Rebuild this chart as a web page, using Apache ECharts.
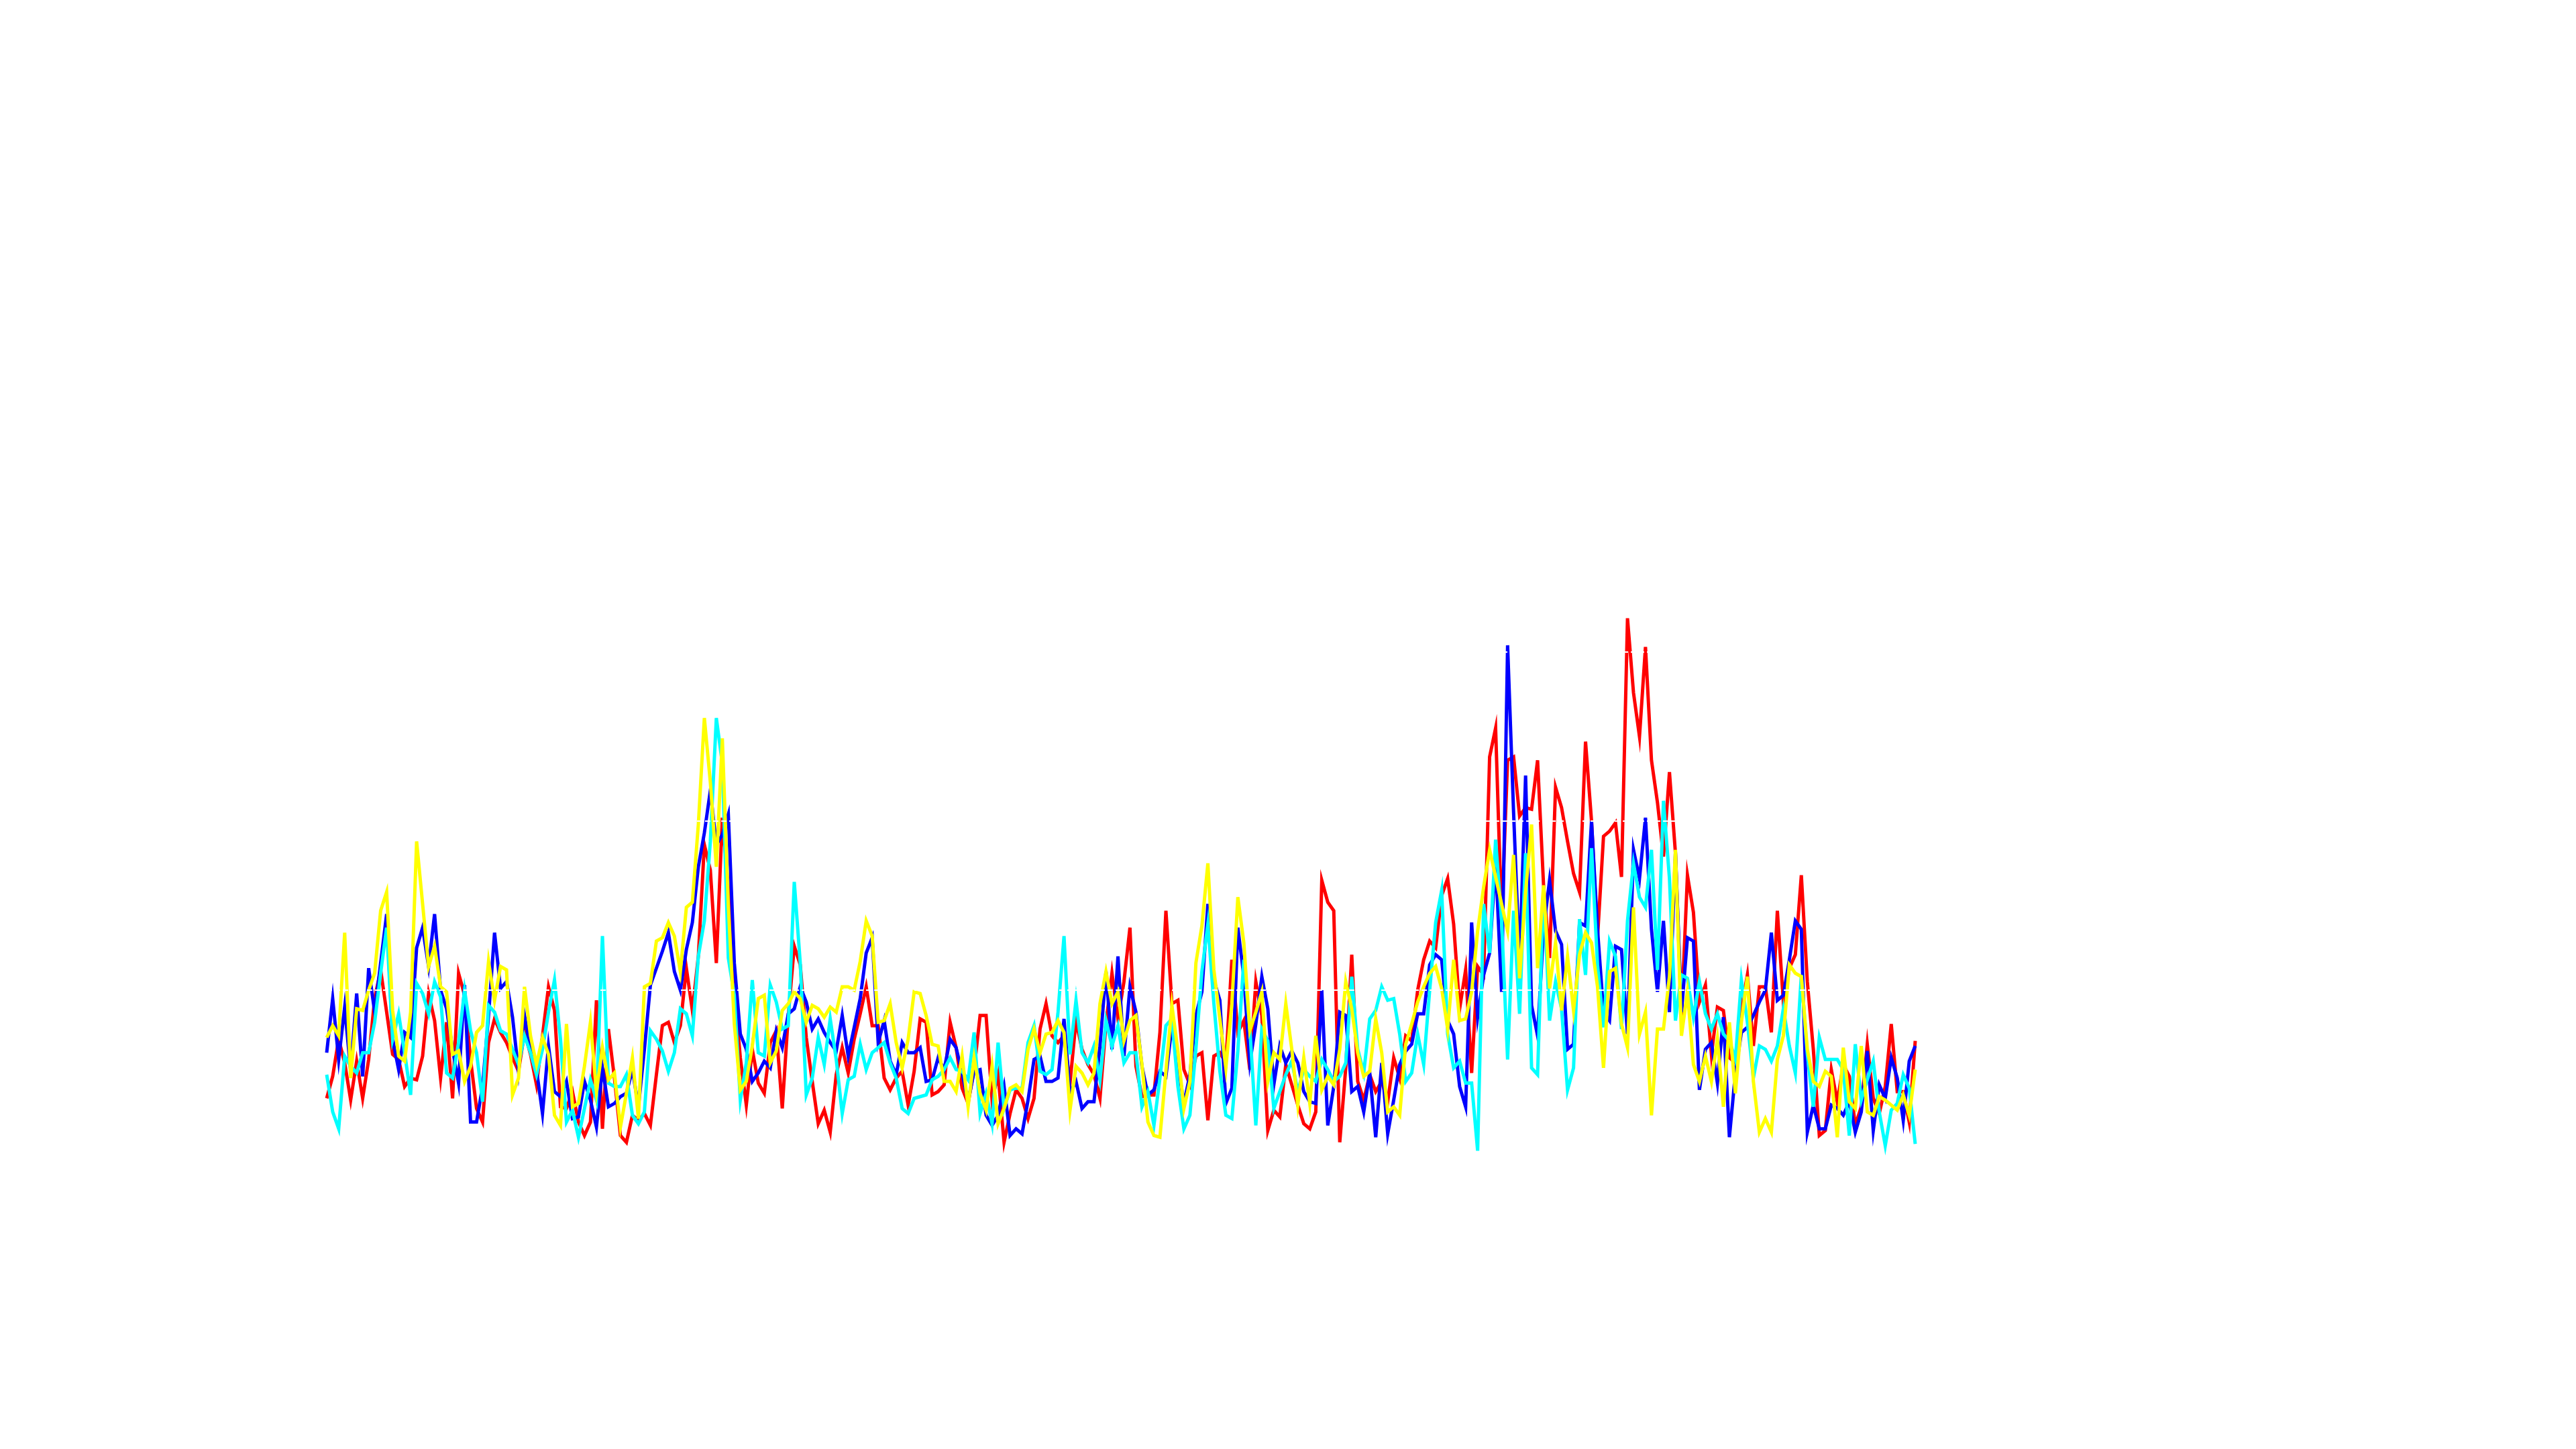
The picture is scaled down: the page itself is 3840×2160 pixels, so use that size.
<!DOCTYPE html>
<html>
<head>
<meta charset="utf-8">
<script src="https://cdn.jsdelivr.net/npm/echarts@6/dist/echarts.min.js"></script>
<style>
html,body{margin:0;padding:0;background:#ffffff;}
#chart{width:3840px;height:2160px;}
</style>
</head>
<body>
<div id="chart"></div>
<script>
// ---- data ----
var seriesNames = ['red', 'blue', 'cyan', 'yellow'];
var seriesColors = ['#ff0000', '#0000ff', '#00ffff', '#ffff00'];

var redValues = [3.6,4.9,7.1,5.7,3.5,5.8,3.6,5.9,9.5,11.2,
8.7,6.2,5.9,4.3,4.8,4.7,6.1,9.8,8.2,4.8,
8.1,3.6,11.0,9.7,5.9,3.0,2.2,6.9,8.3,7.5,
6.9,6.0,5.2,7.5,6.2,4.4,7.3,10.2,8.8,3.1,
3.0,4.0,2.2,1.4,2.2,9.4,1.8,7.7,4.8,1.4,
1.0,2.6,2.3,2.7,2.0,5.0,7.9,8.1,6.9,7.9,
11.3,8.8,12.0,18.6,17.1,11.6,20.2,16.0,10.0,6.0,
3.2,6.5,4.5,3.9,6.9,7.6,3.0,8.5,12.6,11.5,
7.2,4.6,2.1,2.9,1.6,5.0,6.6,5.1,7.1,8.6,
10.2,7.9,7.9,4.8,4.1,4.8,5.2,3.2,5.2,8.3,
8.1,3.8,4.0,4.4,8.1,6.6,4.2,3.3,5.3,8.5,
8.5,3.5,5.0,1.0,2.7,4.1,3.6,2.4,3.6,7.7,
9.2,7.3,6.9,7.3,4.5,8.2,6.5,5.6,5.0,3.6,
8.0,11.0,8.3,10.5,13.7,5.5,3.7,3.8,3.8,7.5,
14.7,9.2,9.4,5.3,4.4,6.1,6.3,2.3,6.1,6.3,
5.7,11.8,7.5,8.2,5.3,10.5,8.5,1.7,2.9,2.5,
5.6,4.4,3.2,2.1,1.8,2.8,16.5,15.2,14.7,1.0,
5.4,12.1,4.6,3.5,5.0,4.0,4.6,3.4,6.0,4.8,
7.3,7.0,10.0,11.8,12.9,12.5,15.6,16.6,13.9,8.9,
11.2,5.1,11.4,10.9,23.8,25.5,14.2,23.6,23.8,20.3,
20.8,20.7,23.6,16.2,11.9,22.0,20.8,18.8,16.9,15.8,
24.7,20.0,13.1,19.1,19.4,19.9,16.7,32.0,27.6,25.0,
30.3,23.6,21.1,17.9,22.9,18.1,8.5,16.8,14.6,9.3,
10.3,6.2,9.0,8.8,6.0,5.7,8.9,10.9,6.7,10.2,
10.2,7.5,14.7,9.3,11.3,12.1,16.8,10.5,6.5,1.4,
1.7,5.3,3.4,5.6,4.9,2.0,3.1,6.8,3.6,2.7,
4.3,8.0,4.0,4.0,2.2,7.0];

var blueValues = [6.3,9.5,5.9,9.0,5.2,9.8,4.9,11.3,8.7,11.6,
14.5,7.1,5.3,7.5,7.2,12.5,13.7,11.4,14.5,10.0,
8.9,6.5,4.5,10.3,2.2,2.2,4.3,8.5,13.4,10.1,
10.5,8.4,5.2,8.5,6.5,5.3,2.7,6.7,4.0,3.7,
4.6,2.4,2.5,4.6,3.5,1.9,5.4,3.1,3.3,3.7,
3.9,5.3,3.1,6.5,10.3,11.3,12.3,13.4,11.1,10.0,
12.4,14.0,17.3,19.3,21.8,18.6,19.2,20.4,11.6,7.4,
6.5,4.6,5.1,5.8,5.4,7.6,6.6,8.6,8.9,10.2,
9.3,7.7,8.3,7.5,6.9,6.4,8.5,6.1,7.8,9.5,
12.2,13.1,6.9,8.2,5.8,5.0,6.9,6.3,6.3,6.6,
4.6,4.7,6.0,5.3,7.1,6.6,5.1,3.4,5.2,5.3,
2.6,2.0,2.6,4.3,1.4,1.8,1.5,3.5,5.9,6.1,
4.6,4.6,4.8,8.3,3.9,4.6,3.0,3.4,3.4,6.7,
11.1,6.5,12.0,6.1,10.2,8.7,5.5,3.8,4.1,5.2,
4.9,7.9,5.6,3.3,5.0,8.5,9.9,15.1,10.6,9.4,
3.3,4.2,13.7,10.8,5.7,8.0,10.8,8.9,4.4,6.7,
5.7,6.4,5.7,4.0,3.4,3.3,10.0,2.0,4.3,8.7,
8.5,4.0,4.3,2.8,5.1,1.3,5.7,1.5,3.5,5.6,
6.4,6.8,8.6,8.6,11.5,12.1,11.8,8.2,7.4,4.3,
3.1,14.0,8.4,10.9,12.2,17.6,9.9,30.4,20.5,11.5,
22.7,9.1,7.3,13.6,16.5,13.5,12.7,6.5,6.8,14.0,
13.8,20.0,13.6,8.7,8.2,12.6,12.4,7.4,18.3,16.6,
20.2,13.6,9.9,14.1,8.7,18.2,8.7,13.1,12.9,4.1,
6.5,6.9,4.5,8.4,1.3,5.1,7.5,7.8,8.5,9.3,
10.0,13.4,9.4,9.7,11.8,14.1,13.6,1.6,3.2,1.8,
1.8,3.2,3.0,2.6,3.4,1.6,2.8,6.4,1.7,4.4,
3.6,6.0,4.8,2.3,5.8,6.7];

var cyanValues = [5.0,2.8,1.8,6.1,5.5,5.1,6.3,6.3,8.1,11.0,
13.7,7.1,8.6,6.3,3.8,10.4,9.8,8.6,10.5,9.6,
5.1,4.8,6.9,10.0,7.6,6.3,3.4,9.1,8.7,7.6,
7.4,6.5,5.6,7.3,6.3,5.0,6.5,8.7,10.6,7.1,
2.2,2.9,1.3,3.0,4.7,3.5,13.2,4.5,4.3,4.3,
5.0,2.6,2.1,2.8,7.6,7.1,6.4,5.2,6.3,8.9,
8.6,7.3,12.0,14.1,18.8,26.1,23.4,11.9,9.7,3.5,
5.7,10.6,6.3,6.1,10.3,9.3,7.7,7.9,16.4,11.6,
3.8,4.8,7.2,5.6,8.3,5.9,2.7,4.7,4.9,6.8,
5.3,6.3,6.6,6.9,5.7,4.8,3.0,2.7,3.6,3.7,
3.8,4.7,4.9,5.3,6.0,5.3,5.2,4.7,7.5,2.7,
3.9,2.1,6.9,3.0,4.1,4.2,4.2,6.9,7.9,5.2,
5.0,5.3,8.7,13.2,6.2,9.4,6.3,5.7,6.7,4.7,
8.2,6.7,7.9,5.7,6.3,6.3,3.1,4.0,2.0,4.8,
7.9,8.3,4.3,1.8,2.6,6.5,11.1,13.9,9.2,5.2,
2.6,2.4,6.4,11.8,7.7,2.0,7.7,7.0,3.0,4.0,
5.0,5.8,4.0,5.3,4.9,4.6,5.9,5.3,4.6,4.9,
5.7,10.8,6.5,5.1,8.3,8.8,10.2,9.4,9.5,7.4,
4.6,5.1,7.4,5.6,10.0,14.0,15.9,7.4,5.4,5.8,
4.5,4.5,0.5,15.1,12.2,18.9,14.1,5.9,14.7,8.6,
18.1,5.4,5.0,16.1,8.2,10.5,8.9,4.1,5.4,14.2,
10.9,18.4,11.5,7.8,12.9,12.0,7.7,14.1,17.5,15.5,
14.9,18.3,11.2,21.2,16.6,8.2,10.9,10.7,8.4,10.5,
8.6,7.7,8.6,7.4,7.0,5.9,10.6,8.1,4.8,6.7,
6.5,5.8,6.7,8.9,6.7,5.1,10.9,6.2,3.1,7.2,
5.9,5.9,5.9,5.3,1.4,6.8,3.5,4.7,5.8,2.8,
0.8,2.9,3.3,5.0,4.2,0.9];

var yellowValues = [7.2,7.9,7.3,13.4,4.8,8.9,8.8,10.0,11.0,14.7,
15.8,8.8,6.1,5.8,8.7,18.8,15.1,11.4,12.6,10.2,
9.9,6.2,6.4,4.6,5.5,7.5,7.9,11.7,9.4,11.4,
11.2,3.8,4.8,10.2,7.3,5.6,7.2,6.2,2.6,2.0,
8.0,3.1,3.3,5.5,8.1,4.0,6.6,4.7,5.1,1.9,
3.9,6.0,2.4,10.2,10.4,12.9,13.1,14.0,13.2,11.1,
14.9,15.2,19.8,26.1,22.3,17.3,24.9,15.0,8.0,4.1,
4.6,6.7,9.5,9.7,5.7,6.4,8.8,9.2,9.9,9.5,
8.1,9.1,8.9,8.4,9.0,8.7,10.2,10.2,10.0,11.7,
14.1,13.2,8.1,8.2,9.2,6.9,5.4,7.1,9.9,9.8,
8.5,6.8,6.7,4.6,4.6,4.0,6.1,3.1,6.0,3.9,
2.9,5.5,2.1,3.0,4.2,4.4,4.0,6.5,7.7,6.3,
7.4,7.5,8.2,7.5,2.9,5.5,5.1,4.4,5.1,9.2,
11.1,9.2,9.9,7.0,8.2,8.5,5.6,2.2,1.4,1.3,
5.2,9.1,6.4,3.0,4.6,11.6,13.8,17.5,11.2,8.3,
5.4,9.2,15.5,12.8,7.6,8.7,9.9,4.6,6.3,5.9,
9.2,6.5,3.2,6.0,3.3,7.3,4.1,4.9,4.4,6.5,
10.5,8.9,6.3,4.9,5.2,8.3,6.3,2.8,3.1,2.6,
6.8,8.0,9.3,10.2,11.0,11.4,10.1,7.7,11.8,8.2,
8.3,9.9,13.5,16.1,18.3,16.7,15.1,13.5,18.0,10.7,
15.8,19.8,11.3,16.2,10.1,12.8,8.8,12.0,8.8,12.1,
13.4,12.8,10.2,5.4,11.1,11.3,8.0,6.6,14.9,7.4,
8.7,2.6,7.7,7.7,10.8,18.3,7.3,9.9,5.6,4.6,
6.1,4.6,7.1,3.1,8.1,3.9,8.1,10.8,4.6,1.6,
2.4,1.6,5.9,7.3,11.5,11.0,10.8,6.5,4.6,4.3,
5.2,4.9,1.3,6.6,3.4,3.0,6.7,2.8,2.6,3.7,
3.5,3.2,2.9,3.8,2.6,5.3];

// x categories: one per sample
var categories = redValues.map(function (_, i) { return String(i + 1); });

var allValues = [redValues, blueValues, cyanValues, yellowValues];

var chart = echarts.init(document.getElementById('chart'), null, {renderer: 'canvas'});
chart.setOption({
  animation: false,
  backgroundColor: '#ffffff',
  grid: {left: 487, right: 985, top: 216, bottom: 432, containLabel: false},
  xAxis: {
    type: 'category',
    data: categories,
    boundaryGap: false,
    show: false
  },
  yAxis: {
    type: 'value',
    min: 0,
    max: 60,
    interval: 10,
    z: 10,
    axisLine: {show: false},
    axisTick: {show: false},
    axisLabel: {show: false},
    splitLine: {show: true, lineStyle: {color: '#ffffff', type: 'dashed', width: 2}}
  },
  series: allValues.map(function (vals, k) {
    return {
      name: seriesNames[k],
      type: 'line',
      data: vals,
      symbol: 'none',
      showSymbol: false,
      z: 2,
      lineStyle: {color: seriesColors[k], width: 5, join: 'miter', miterLimit: 10}
    };
  })
});
</script>
</body>
</html>
